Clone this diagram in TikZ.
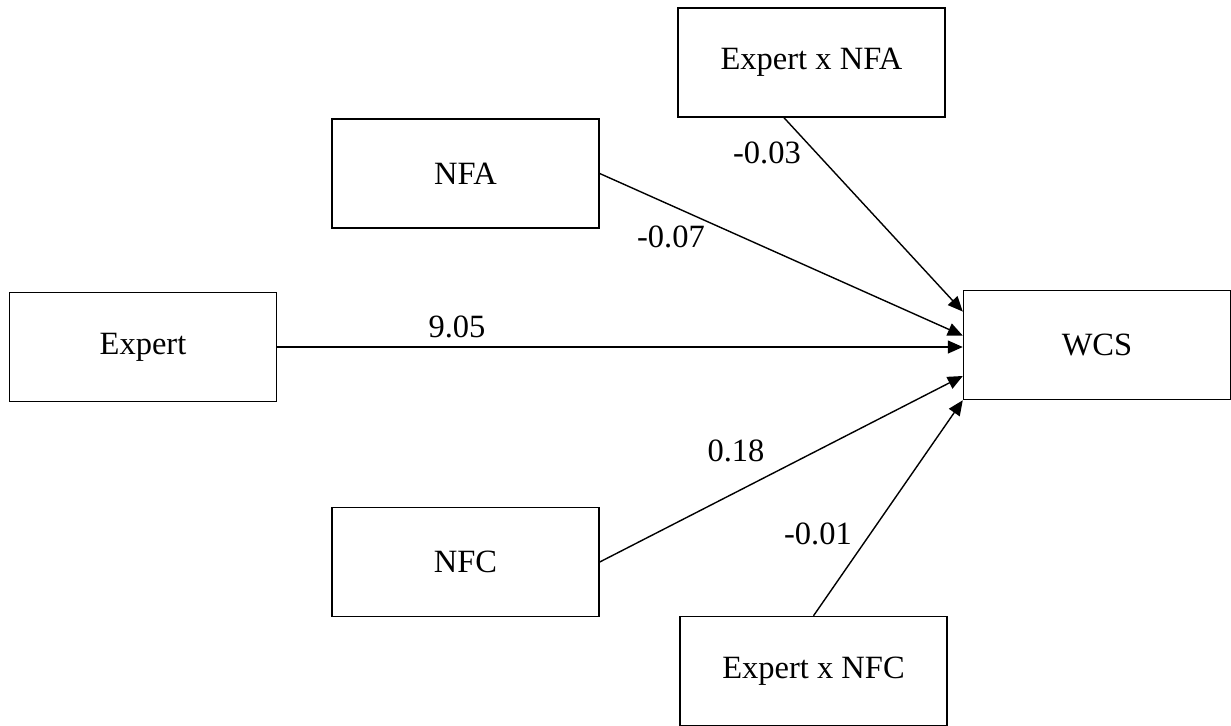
\documentclass[tikz,border=0pt]{standalone}
\usepackage{fontspec}
\setmainfont{Liberation Serif}
\usetikzlibrary{arrows.meta}
\begin{document}
\begin{tikzpicture}[x=0.02cm,y=-0.02cm]
\tikzset{hop/.style={draw,line width=0.85pt,minimum width=5.34cm,minimum height=2.18cm,font=\fontsize{18.5}{22}\selectfont},
muiten/.style={line width=0.8pt,-{Triangle[length=0.3cm,width=0.26cm]}},
heso/.style={font=\fontsize{18.5}{22}\selectfont,inner sep=0pt}}
\useasboundingbox (0,0) rectangle (1231,725);
\node[hop] (enfa) at (811.5,62.5) {Expert x NFA};
\node[hop] (nfa) at (465.5,173.5) {NFA};
\node[hop] (expert) at (143,347) {Expert};
\node[hop] (wcs) at (1097,345) {WCS};
\node[hop] (nfc) at (465.5,562) {NFC};
\node[hop] (enfc) at (813.5,671) {Expert x NFC};
\draw[muiten] ([xshift=-0.55cm]enfa.south)--(wcs.166);
\draw[muiten] (nfa.east)--(wcs.176);
\draw[muiten] (expert.east)--(expert.east-|wcs.west);
\draw[muiten] (nfc.east)--(wcs.193);
\draw[muiten] (enfc.north)--(wcs.south west);
\node[heso] (hs1) at (767,153) {-0.03};
\node[heso] (hs2) at (671,237) {-0.07};
\node[heso] (hs3) at (457,327) {9.05};
\node[heso] (hs4) at (736,451) {0.18};
\node[heso] (hs5) at (818,534) {-0.01};
\end{tikzpicture}
\end{document}
